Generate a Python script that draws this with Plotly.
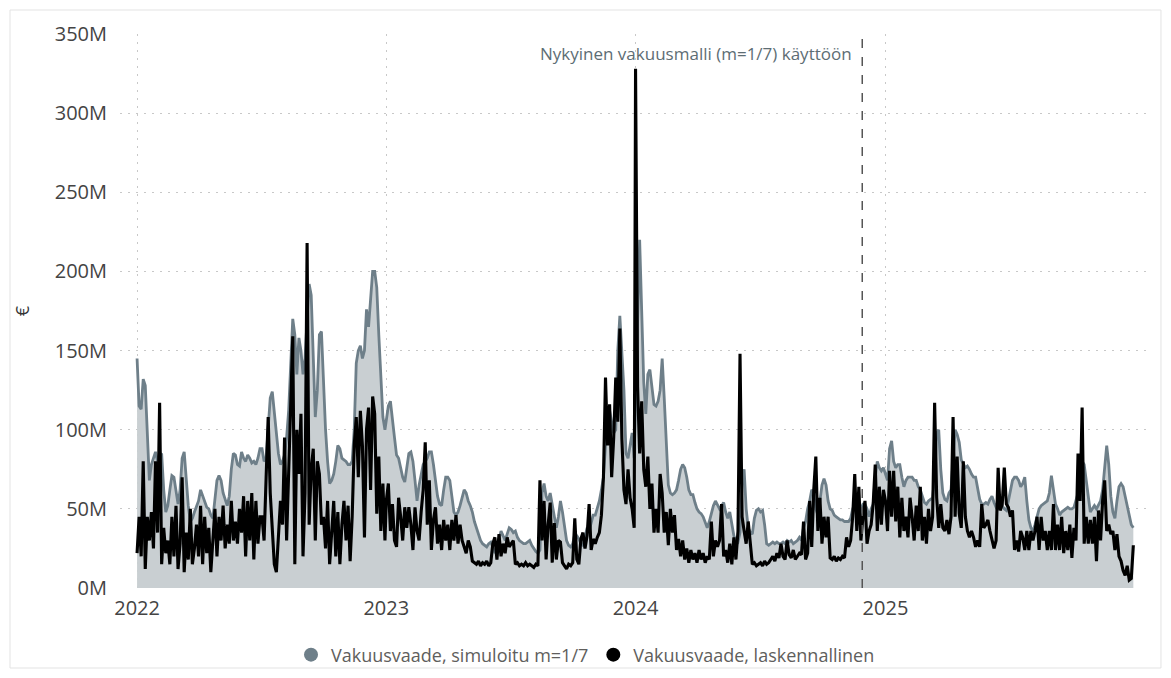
import pandas as pd
import plotly.graph_objects as go

# ---- data (M€), sampled every 3 days from 1 Jan of each year ----
sim_2022 = [145,115,113,132,128,100,68,78,82,86,80,
            84,85,62,48,52,62,71,70,60,
            53,62,82,86,70,52,42,44,48,52,
            55,62,58,55,51,50,46,44,55,68,
            71,68,60,56,52,58,75,85,84,78,77,
            86,82,80,84,82,79,80,78,82,88,
            88,80,82,100,120,124,110,98,85,78,
            80,84,95,112,140,170,160,135,158,150,
            135,145,170,192,185,150,108,125,160,162,
            125,100,80,66,68,72,80,90,88,82,81,
            80,78,78,80,100,142,150,153,145,150,
            176,165,185,200,200,190,160,130,108,100]
sim_2023 = [105,115,118,108,95,84,82,76,70,67,75,
            85,86,80,68,55,65,72,78,80,
            82,86,86,78,66,58,53,52,62,70,
            70,68,58,48,46,48,52,58,62,60,
            55,52,48,42,38,33,30,28,27,26,28,
            29,26,22,25,31,36,33,30,34,38,
            37,35,36,32,30,29,28,28,29,30,
            27,25,23,22,24,60,66,58,55,60,
            52,46,38,45,55,48,40,30,27,26,
            28,34,33,31,28,27,32,38,36,42,46,
            46,50,55,62,70,90,110,112,105,98,
            100,150,172,150,125,85,82,90,98,82]
sim_2024 = [120,180,220,175,130,110,135,138,125,116,115,
            118,125,145,120,95,65,60,59,60,
            62,68,75,78,76,70,62,59,59,54,50,
            48,47,45,42,38,42,48,52,55,52,
            50,52,54,48,44,48,40,33,30,29,
            35,65,75,50,38,35,34,44,49,50,
            48,49,40,28,27,28,29,28,29,28,
            28,29,28,30,29,30,28,29,30,32,30,
            38,42,50,55,62,60,50,46,55,65,
            69,65,55,50,49,46,45,44,43,43,
            42,42,42,44,50,53,45,40,50,53,
            53,50,45,50,53,70,80,76,74,76]
sim_2025 = [72,68,88,93,80,76,78,78,70,64,68,
            70,70,70,68,68,64,62,58,54,
            53,55,56,57,70,98,100,75,60,56,
            55,60,62,80,100,97,92,81,78,76,
            77,75,72,70,70,62,56,53,53,54,53,
            56,58,54,51,52,52,52,50,49,55,
            62,68,70,70,68,64,66,70,55,43,
            38,36,40,46,50,52,53,54,55,60,
            71,62,53,50,46,48,49,50,51,50,
            50,51,55,60,72,80,78,68,56,48,50,
            52,50,53,55,62,75,90,78,58,48,
            44,55,64,66,64,58,52,46,40,38]

calc_2022 = [22,45,20,80,12,45,30,48,25,80,35,
             117,15,38,22,30,15,45,20,52,
             12,28,70,10,35,18,50,15,25,40,
             20,52,15,45,22,38,10,30,50,20,
             45,30,52,25,40,28,55,30,42,28,50,
             35,58,20,55,30,60,18,55,28,45,
             45,30,70,108,60,40,15,10,36,55,
             40,95,30,75,120,159,15,100,72,110,
             20,60,218,40,75,88,30,80,72,40,
             45,25,55,15,35,55,20,48,15,40,55,
             30,52,17,45,90,108,70,112,90,32,
             100,114,62,121,110,47,83,36,66,30]
calc_2023 = [55,66,36,53,30,26,57,45,30,51,38,
             51,40,24,51,36,30,48,62,92,
             40,68,24,43,51,28,40,24,43,30,
             40,24,43,30,46,28,40,30,26,22,
             30,26,17,16,15,17,14,16,15,17,14,
             16,28,32,18,34,20,28,22,32,26,
             28,30,15,16,14,15,14,16,14,15,
             14,13,15,14,68,30,55,18,40,54,
             16,41,18,30,29,16,14,12,15,14,
             16,44,18,15,31,35,25,33,53,24,31,
             28,32,35,46,70,133,90,116,70,95,
             133,105,164,94,62,53,75,57,50,38]
calc_2024 = [328,127,85,118,75,64,83,50,66,35,50,
             35,72,60,35,48,27,50,35,46,
             24,31,20,30,18,25,16,24,18,22,16,
             24,18,22,16,20,18,42,20,30,26,
             30,53,20,24,16,28,15,32,18,36,
             148,45,36,28,42,28,15,16,14,15,
             16,14,17,15,16,18,20,17,22,19,
             28,20,18,30,21,19,24,18,20,22,21,
             42,18,22,55,26,62,83,36,57,28,
             45,32,45,19,18,20,17,19,18,20,
             19,32,26,30,45,72,36,64,30,45,
             55,28,36,40,53,78,36,64,40,62]
calc_2025 = [55,36,74,45,74,42,64,32,57,36,45,
             32,57,45,30,52,36,64,30,45,
             28,50,36,45,117,57,38,53,38,36,
             43,34,45,108,45,83,47,38,80,45,
             36,32,36,32,26,30,26,53,38,40,43,
             36,30,25,30,76,49,53,76,53,51,
             45,49,24,30,23,36,32,24,36,24,
             36,30,36,45,24,45,30,36,24,36,
             24,53,24,40,24,45,22,36,24,40,
             19,38,30,85,55,114,28,45,28,43,28,
             45,17,49,30,55,68,36,40,34,36,
             24,34,20,17,11,8,14,5,6,27]

years = [2022, 2023, 2024, 2025]
sim_by_year = [sim_2022, sim_2023, sim_2024, sim_2025]
calc_by_year = [calc_2022, calc_2023, calc_2024, calc_2025]
year_ticks = ["2022-01-01", "2023-01-01", "2024-01-01", "2025-01-01"]
year_labels = ["2022", "2023", "2024", "2025"]
y_ticks = [0, 50, 100, 150, 200, 250, 300, 350]
y_labels = ["0M", "50M", "100M", "150M", "200M", "250M", "300M", "350M"]

series_names = ["Vakuusvaade, simuloitu m=1/7", "Vakuusvaade, laskennallinen"]
model_date = "2024-11-28"
model_text = "Nykyinen vakuusmalli (m=1/7) käyttöön"

# ---- build ----
dates, sim, calc = [], [], []
for yr, s, c in zip(years, sim_by_year, calc_by_year):
    d = pd.date_range(f"{yr}-01-01", periods=len(s), freq="3D")
    dates.extend(d)
    sim.extend(s)
    calc.extend(c)

GREY = "#6e7f89"
FILL = "#c9cfd2"
GRID = "#c8c8c8"
FONT = "Segoe UI, Open Sans, sans-serif"

fig = go.Figure()
fig.add_trace(go.Scatter(x=dates, y=sim, mode="lines", fill="tozeroy",
                         fillcolor=FILL, line=dict(color=GREY, width=2.8),
                         showlegend=False, name=series_names[0]))
fig.add_trace(go.Scatter(x=dates, y=calc, mode="lines",
                         line=dict(color="#000000", width=3.1),
                         showlegend=False, name=series_names[1]))
# legend entries (circle markers)
fig.add_trace(go.Scatter(x=[None], y=[None], mode="markers",
                         marker=dict(color=GREY, size=14), name=series_names[0]))
fig.add_trace(go.Scatter(x=[None], y=[None], mode="markers",
                         marker=dict(color="#000000", size=14), name=series_names[1]))

fig.add_shape(type="line", x0=model_date, x1=model_date, xref="x",
              y0=0, y1=1, yref="paper",
              line=dict(color="#555555", width=1.5, dash="dash"))
fig.add_annotation(x=model_date, xref="x", y=1, yref="paper",
                   text=model_text, showarrow=False, xanchor="right",
                   yanchor="top", xshift=-8, yshift=-6,
                   font=dict(family=FONT, size=17, color="#5d6d74"))

# visual frame
fig.add_shape(type="rect", xref="paper", yref="paper",
              x0=-0.1071, x1=1.0136, y0=-0.1444, y1=1.0433,
              line=dict(color="#e3e3e3", width=1), layer="below")

fig.update_layout(
    width=1155, height=662,
    margin=dict(l=112, r=16, t=26, b=82, autoexpand=False),
    plot_bgcolor="white", paper_bgcolor="white",
    font=dict(family=FONT, color="#444444"),
    showlegend=True,
    legend=dict(orientation="h", xref="container", yref="container",
                x=0.5, xanchor="center", y=0.0227, yanchor="middle",
                bgcolor="rgba(0,0,0,0)",
                font=dict(size=18, color="#605e5c"), itemsizing="trace",
                itemwidth=30, tracegroupgap=0),
    xaxis=dict(type="date", range=["2021-12-07", "2026-01-19"],
               tickmode="array", tickvals=year_ticks, ticktext=year_labels,
               showgrid=True, gridcolor=GRID, griddash="2px,6px", gridwidth=1,
               zeroline=False, showline=False, ticks="", automargin=False,
               tickfont=dict(size=20, color="#444444"),
               ticklabelstandoff=6, layer="above traces"),
    yaxis=dict(range=[0, 350], tickmode="array", tickvals=y_ticks,
               ticktext=y_labels, automargin=False,
               showgrid=True, gridcolor=GRID, griddash="2px,6px", gridwidth=1,
               zeroline=False, showline=False, ticks="",
               tickfont=dict(size=20, color="#444444"),
               ticklabelstandoff=12,
               title=dict(text="€", font=dict(size=18, color="#333333"),
                          standoff=20)),
)

fig.write_html("out.html")
